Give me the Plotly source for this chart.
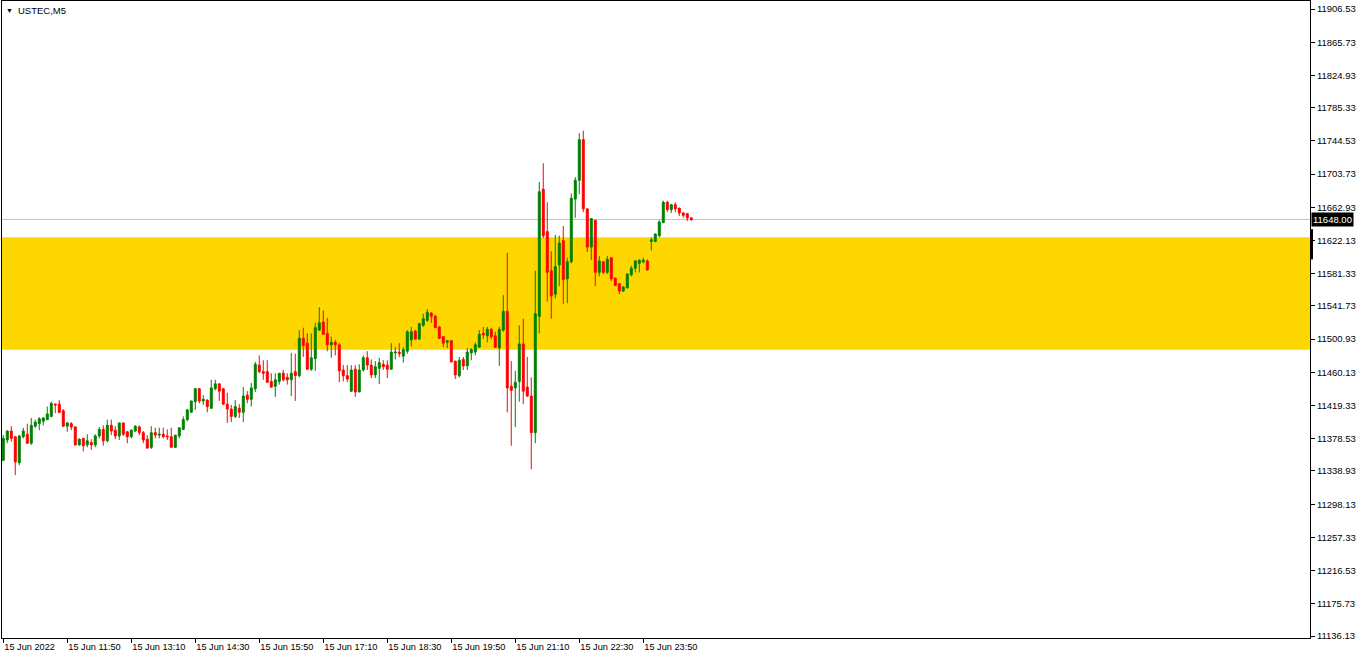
import pandas as pd
import plotly.graph_objects as go

GREEN = "#008000"
RED = "#FF0000"
ZONE_COLOR = "#FFD700"
FONT = "Liberation Sans"

SYMBOL = "USTEC,M5"
START = "2022-06-15 10:30"

OPEN = [11352, 11377, 11388, 11381, 11349, 11381, 11384, 11373, 11394, 11397,
        11400, 11402, 11406, 11421, 11421, 11413, 11394, 11397, 11393, 11371,
        11379, 11371, 11374, 11371, 11382, 11390, 11376, 11395, 11389, 11382,
        11398, 11387, 11381, 11388, 11393, 11386, 11378, 11368, 11386, 11383,
        11384, 11382, 11381, 11368, 11382, 11390, 11402, 11411, 11424, 11440,
        11425, 11426, 11416, 11440, 11446, 11440, 11421, 11415, 11406, 11416,
        11411, 11432, 11427, 11440, 11469, 11461, 11461, 11449, 11443, 11449,
        11459, 11454, 11451, 11461, 11456, 11502, 11496, 11464, 11477, 11512,
        11522, 11508, 11494, 11497, 11494, 11463, 11456, 11437, 11464, 11436,
        11463, 11478, 11469, 11457, 11465, 11470, 11469, 11464, 11484, 11485,
        11480, 11486, 11500, 11511, 11501, 11518, 11524, 11533, 11529, 11516,
        11504, 11497, 11499, 11474, 11456, 11476, 11468, 11484, 11485, 11491,
        11508, 11505, 11513, 11505, 11490, 11512, 11535, 11443, 11441, 11449,
        11495, 11442, 11431, 11386, 11529, 11685, 11633, 11585, 11556, 11592,
        11622, 11575, 11596, 11673, 11696, 11746, 11661, 11614, 11647, 11583,
        11596, 11583, 11601, 11576, 11569, 11560, 11564, 11580, 11588, 11594,
        11596, 11597, 11621, 11621, 11628, 11644, 11669, 11660, 11666, 11662,
        11656, 11655, 11650]
HIGH = [11383, 11389, 11394, 11381, 11383, 11392, 11397, 11404, 11402, 11405,
        11405, 11418, 11424, 11422, 11426, 11415, 11399, 11399, 11394, 11379,
        11379, 11384, 11378, 11384, 11393, 11395, 11402, 11402, 11394, 11398,
        11398, 11388, 11390, 11395, 11395, 11388, 11383, 11394, 11392, 11392,
        11392, 11390, 11392, 11383, 11392, 11406, 11415, 11425, 11441, 11441,
        11432, 11427, 11451, 11451, 11446, 11441, 11435, 11420, 11426, 11421,
        11442, 11437, 11447, 11473, 11481, 11475, 11475, 11459, 11459, 11459,
        11463, 11459, 11484, 11483, 11512, 11515, 11508, 11508, 11521, 11540,
        11536, 11527, 11504, 11500, 11496, 11469, 11469, 11469, 11469, 11470,
        11481, 11486, 11476, 11474, 11478, 11475, 11475, 11496, 11491, 11496,
        11491, 11512, 11516, 11512, 11521, 11532, 11538, 11534, 11531, 11516,
        11504, 11500, 11500, 11474, 11479, 11479, 11490, 11490, 11497, 11512,
        11516, 11516, 11515, 11510, 11516, 11555, 11607, 11474, 11462, 11518,
        11526, 11479, 11454, 11585, 11694, 11717, 11669, 11609, 11629, 11628,
        11640, 11601, 11680, 11700, 11754, 11757, 11661, 11649, 11647, 11603,
        11596, 11603, 11601, 11576, 11570, 11566, 11582, 11591, 11598, 11599,
        11601, 11599, 11626, 11631, 11647, 11671, 11671, 11667, 11669, 11662,
        11657, 11656, 11650]
LOW = [11351, 11373, 11375, 11334, 11346, 11379, 11372, 11371, 11392, 11389,
       11395, 11402, 11405, 11410, 11410, 11393, 11387, 11389, 11370, 11370,
       11363, 11368, 11365, 11368, 11379, 11370, 11374, 11383, 11378, 11377,
       11382, 11373, 11379, 11387, 11383, 11373, 11367, 11366, 11379, 11379,
       11379, 11377, 11368, 11367, 11379, 11389, 11400, 11411, 11414, 11422,
       11420, 11411, 11415, 11438, 11425, 11420, 11398, 11399, 11404, 11404,
       11399, 11422, 11418, 11436, 11459, 11451, 11447, 11441, 11430, 11445,
       11449, 11445, 11431, 11425, 11454, 11479, 11463, 11462, 11462, 11511,
       11506, 11486, 11478, 11481, 11448, 11449, 11448, 11436, 11430, 11436,
       11461, 11463, 11453, 11453, 11446, 11463, 11453, 11463, 11476, 11479,
       11472, 11483, 11492, 11500, 11500, 11516, 11522, 11521, 11515, 11501,
       11491, 11490, 11472, 11452, 11454, 11463, 11463, 11475, 11481, 11491,
       11501, 11497, 11501, 11490, 11468, 11510, 11411, 11370, 11393, 11424,
       11421, 11430, 11341, 11373, 11508, 11625, 11547, 11526, 11551, 11566,
       11544, 11545, 11594, 11650, 11679, 11657, 11608, 11598, 11566, 11578,
       11581, 11581, 11572, 11566, 11556, 11559, 11563, 11578, 11583, 11583,
       11594, 11585, 11610, 11620, 11626, 11644, 11657, 11656, 11657, 11652,
       11650, 11646, 11646]
CLOSE = [11379, 11388, 11379, 11350, 11382, 11388, 11373, 11395, 11399, 11403,
         11404, 11409, 11422, 11420, 11411, 11394, 11398, 11393, 11371, 11378,
         11370, 11376, 11371, 11382, 11390, 11376, 11395, 11388, 11382, 11398,
         11384, 11381, 11389, 11394, 11386, 11377, 11367, 11386, 11383, 11384,
         11381, 11381, 11368, 11383, 11392, 11402, 11414, 11425, 11440, 11425,
         11427, 11418, 11441, 11446, 11437, 11421, 11415, 11406, 11418, 11411,
         11431, 11427, 11441, 11470, 11461, 11459, 11448, 11442, 11451, 11459,
         11451, 11451, 11459, 11456, 11502, 11493, 11464, 11478, 11515, 11521,
         11507, 11494, 11497, 11494, 11462, 11456, 11452, 11463, 11436, 11463,
         11478, 11469, 11457, 11467, 11472, 11467, 11464, 11485, 11485, 11483,
         11488, 11510, 11510, 11501, 11520, 11526, 11534, 11529, 11515, 11502,
         11496, 11499, 11473, 11457, 11475, 11468, 11485, 11488, 11494, 11507,
         11506, 11513, 11504, 11491, 11513, 11535, 11441, 11438, 11448, 11495,
         11437, 11431, 11386, 11532, 11682, 11628, 11583, 11554, 11590, 11619,
         11574, 11596, 11674, 11696, 11746, 11661, 11614, 11649, 11583, 11597,
         11583, 11599, 11575, 11567, 11560, 11565, 11581, 11588, 11597, 11598,
         11598, 11586, 11623, 11630, 11645, 11669, 11660, 11666, 11661, 11656,
         11653, 11650, 11648]

# zona de soporte/resistencia y precio actual
ZONE_TOP = 11626
ZONE_BOTTOM = 11488
LAST_PRICE = 11648.00

Y_TICKS = [11906.53, 11865.73, 11824.93, 11785.33, 11744.53, 11703.73, 11662.93,
           11622.13, 11581.33, 11541.73, 11500.93, 11460.13, 11419.33, 11378.53,
           11338.93, 11298.13, 11257.33, 11216.53, 11175.73, 11136.13]
X_TICK_TIMES = ["2022-06-15 10:30", "2022-06-15 11:50", "2022-06-15 13:10",
                "2022-06-15 14:30", "2022-06-15 15:50", "2022-06-15 17:10",
                "2022-06-15 18:30", "2022-06-15 19:50", "2022-06-15 21:10",
                "2022-06-15 22:30", "2022-06-15 23:50"]
X_TICK_LABELS = ["15 Jun 2022", "15 Jun 11:50", "15 Jun 13:10", "15 Jun 14:30",
                 "15 Jun 15:50", "15 Jun 17:10", "15 Jun 18:30", "15 Jun 19:50",
                 "15 Jun 21:10", "15 Jun 22:30", "15 Jun 23:50"]

times = pd.date_range(START, periods=len(OPEN), freq="5min")

# ventana visible: ~327 barras de 4 px
x0 = pd.Timestamp(START) - pd.Timedelta(minutes=1.6)
x1 = x0 + pd.Timedelta(minutes=5 * 327)

fig = go.Figure(go.Candlestick(
    x=times, open=OPEN, high=HIGH, low=LOW, close=CLOSE,
    increasing=dict(line=dict(color=GREEN, width=1), fillcolor=GREEN),
    decreasing=dict(line=dict(color=RED, width=1), fillcolor=RED),
    whiskerwidth=0, hoverinfo="skip", showlegend=False,
))

fig.add_shape(type="rect", xref="paper", x0=0, x1=1, yref="y",
              y0=ZONE_BOTTOM, y1=ZONE_TOP, fillcolor=ZONE_COLOR,
              line=dict(width=0), layer="below")
fig.add_shape(type="line", xref="paper", x0=0, x1=1, yref="y",
              y0=LAST_PRICE, y1=LAST_PRICE, line=dict(color="#C0C0C0", width=1),
              layer="below")
fig.add_shape(type="rect", xref="paper", x0=1, x1=1 + 3 / 1308, yref="y",
              y0=11599, y1=11636, fillcolor="black", line=dict(width=0))

fig.add_annotation(xref="paper", yref="paper", x=0, y=1, xanchor="left",
                   yanchor="top", xshift=2, yshift=-4, text="▼", showarrow=False,
                   font=dict(family=FONT, size=7, color="black"))
fig.add_annotation(xref="paper", yref="paper", x=0, y=1, xanchor="left",
                   yanchor="top", xshift=14, yshift=-2, text=SYMBOL, showarrow=False,
                   font=dict(family=FONT, size=9.5, color="black"))
fig.add_annotation(xref="paper", yref="y", x=1, y=LAST_PRICE, xanchor="left",
                   yanchor="middle", xshift=1, text=f"{LAST_PRICE:.2f}",
                   showarrow=False, bgcolor="black", borderpad=1,
                   font=dict(family=FONT, size=9.5, color="white"))

fig.update_layout(
    width=1362, height=660,
    margin=dict(l=2, r=52, t=1, b=22),
    paper_bgcolor="white", plot_bgcolor="white",
    font=dict(family=FONT, size=9.5, color="black"),
    xaxis=dict(type="date", range=[x0, x1], rangeslider=dict(visible=False),
               showgrid=False, zeroline=False, showline=True, linecolor="black",
               linewidth=1, mirror=True, ticks="outside", ticklen=4,
               tickcolor="black", tickvals=X_TICK_TIMES, ticktext=X_TICK_LABELS,
               ticklabelposition="outside right", tickfont=dict(size=9.2)),
    yaxis=dict(side="right", range=[11133.7, 11916.4], showgrid=False,
               zeroline=False, showline=True, linecolor="black", linewidth=1,
               mirror=True, ticks="outside", ticklen=4, tickcolor="black",
               tickvals=Y_TICKS, ticktext=[f"{v:.2f}" for v in Y_TICKS]),
)

# quitar el margen por defecto del <body> para que el gráfico empiece en (0, 0)
fig.write_html("out.html", config={"displayModeBar": False},
               post_script="document.body.style.margin='0';")
